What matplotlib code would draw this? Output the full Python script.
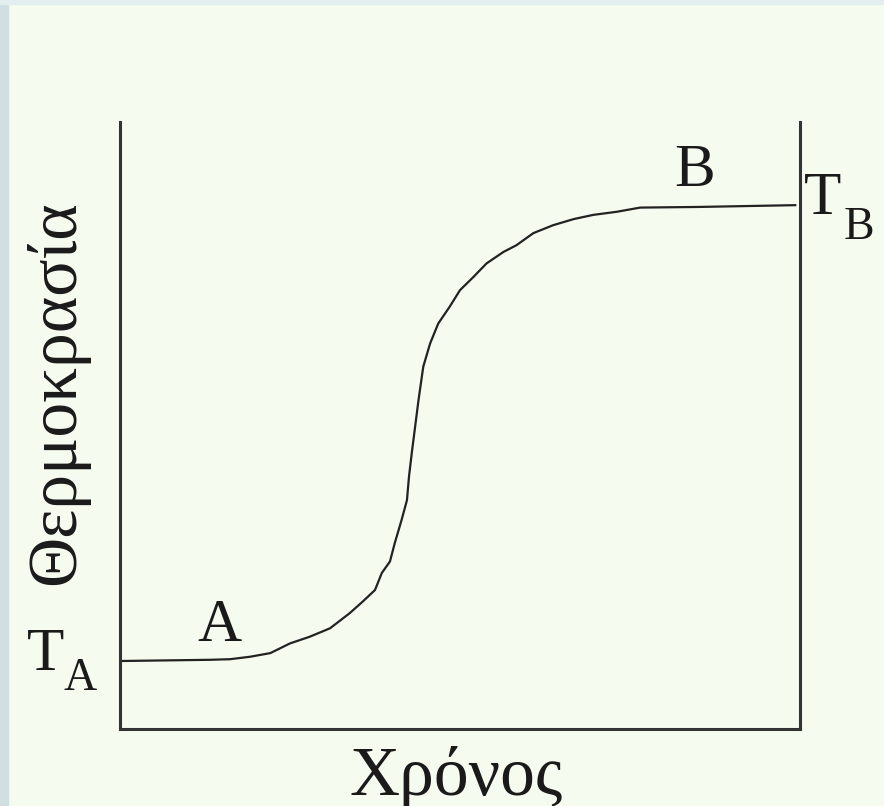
import matplotlib
matplotlib.use("Agg")
import matplotlib.pyplot as plt
from matplotlib.patches import Rectangle

# curve (time, temperature), arbitrary 0-100 units
time = [0, 13.2, 16.2, 19.1, 22.1, 25.0, 27.9, 30.9, 33.8, 35.7, 37.5, 38.5,
        39.7, 40.4, 41.4, 42.2, 42.5, 42.9, 43.4, 43.9, 44.6, 45.6, 46.8,
        48.5, 50.0, 52.0, 53.9, 56.4, 58.3, 60.8, 63.7, 66.7, 69.6, 73.0,
        76.5, 84.8, 99.3]
temp = [11.2, 11.4, 11.5, 11.9, 12.5, 14.1, 15.2, 16.6, 19.1, 21.0, 22.9, 25.7,
        27.6, 30.6, 34.4, 37.7, 41.6, 45.4, 49.8, 54.2, 59.7, 63.5, 66.8,
        69.6, 72.3, 74.5, 76.7, 78.6, 79.7, 81.7, 83.0, 84.0, 84.7, 85.2,
        85.9, 86.0, 86.3]

x_label = "Χρόνος"
y_label = "Θερμοκρασία"

BG = "#f5fcef"
FONT = "Liberation Serif"
W, H = 884, 806

fig = plt.figure(figsize=(W / 100, H / 100), dpi=100, facecolor=BG)
# bluish frame strips at left and top edges
fig.patches.append(Rectangle((0, 0), 8 / W, 1, transform=fig.transFigure,
                             color="#cfdfe2", zorder=0))
fig.patches.append(Rectangle((0, 1 - 4 / H), 1, 4 / H, transform=fig.transFigure,
                             color="#e2eef0", zorder=0))

ax = fig.add_axes([120 / W, 1 - 729 / H, 680 / W, 607 / H])
ax.set_facecolor(BG)
ax.plot(time, temp, color="#222222", lw=1.6)
ax.set_xlim(0, 100)
ax.set_ylim(0, 100)
ax.set_xticks([])
ax.set_yticks([])
ax.spines["top"].set_visible(False)
for s in ["left", "right", "bottom"]:
    ax.spines[s].set_linewidth(2.2)
    ax.spines[s].set_color("#333333")

fs = 50
tc = "#1a1a1a"
ax.text(49.5, -10.9, x_label, fontsize=fs, family=FONT, ha="center",
        va="baseline", color=tc)
ax.text(-9.3, 55.4, y_label, fontsize=fs, family=FONT, ha="center",
        va="center", rotation=90, color=tc)

# point labels
ax.text(14.7, 14.5, "A", fontsize=44, family=FONT, ha="center",
        va="baseline", color=tc)
ax.text(84.5, 89.5, "B", fontsize=44, family=FONT, ha="center",
        va="baseline", color=tc)

# T_A, T_B (letters plus subscripts)
ax.text(-11.0, 9.7, "T", fontsize=44, family=FONT, ha="center",
        va="baseline", color=tc)
ax.text(-5.9, 6.4, "A", fontsize=33, family=FONT, ha="center",
        va="baseline", color=tc)
ax.text(103.3, 84.8, "T", fontsize=44, family=FONT, ha="center",
        va="baseline", color=tc)
ax.text(108.7, 80.8, "B", fontsize=33, family=FONT, ha="center",
        va="baseline", color=tc)

fig.savefig("out.png", dpi=100, facecolor=BG)
